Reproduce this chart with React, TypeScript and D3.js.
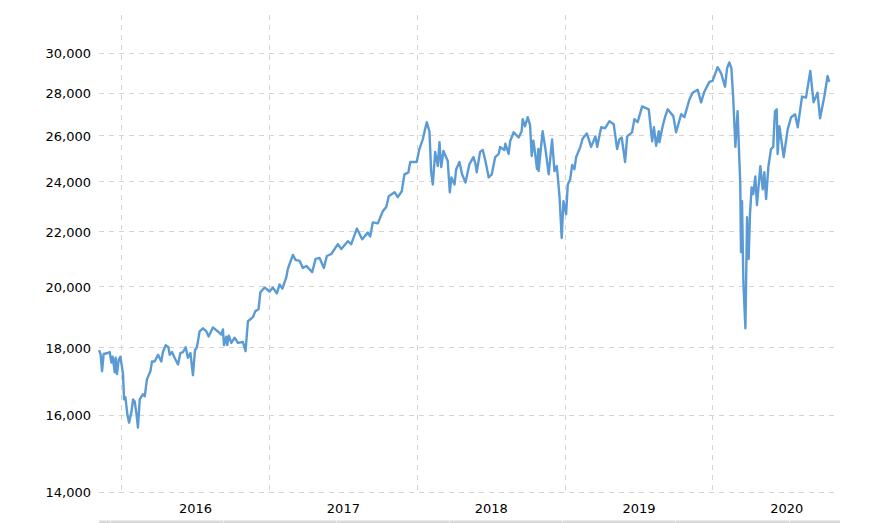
import React from "react";
import * as d3 from "d3";

const yearLabels = ["2016", "2017", "2018", "2019", "2020"];
const yearStarts = [2016, 2017, 2018, 2019, 2020];
const yTicks = [14000, 16000, 18000, 20000, 22000, 24000, 26000, 28000, 30000];
const navigatorTicks = [2015.925, 2016.69, 2017.455, 2018.22, 2018.985, 2019.75, 2020.515];

// [decimal year, index close]
const series: [number, number][] = [
[2015.847,17920],[2015.858,17775],[2015.867,17275],[2015.878,17800],[2015.905,17830],[2015.919,17860],[2015.930,17540],[2015.939,17715],[2015.953,17245],[2015.959,17685],[2015.968,17190],[2015.980,17625],[2015.991,17715],
[2016.009,17190],[2016.016,16450],[2016.025,16510],[2016.039,16010],[2016.050,15800],[2016.066,16100],[2016.077,16450],[2016.088,16390],[2016.099,16070],[2016.110,15665],[2016.122,16450],[2016.144,16600],[2016.156,16540],[2016.171,17040],[2016.194,17275],[2016.205,17570],[2016.223,17570],[2016.246,17775],[2016.268,17570],[2016.279,17860],[2016.298,18075],[2016.316,18010],[2016.325,17775],[2016.340,17860],[2016.358,17685],[2016.381,17480],[2016.397,17830],[2016.415,17860],[2016.433,18010],[2016.448,17685],[2016.465,17830],[2016.482,17155],[2016.496,17920],[2016.509,18010],[2016.527,18510],[2016.550,18610],[2016.573,18510],[2016.588,18345],[2016.617,18640],[2016.651,18510],[2016.674,18410],[2016.685,18575],[2016.692,18075],[2016.708,18345],[2016.714,18075],[2016.725,18375],[2016.742,18145],[2016.764,18310],[2016.786,18145],[2016.820,18175],[2016.838,17890],[2016.854,18840],[2016.888,18975],[2016.904,19175],[2016.926,19240],[2016.938,19810],[2016.967,19975],
[2017.001,19840],[2017.023,19975],[2017.050,19775],[2017.068,20085],[2017.087,19940],[2017.114,20340],[2017.124,20630],[2017.158,21140],[2017.176,20960],[2017.204,20920],[2017.226,20665],[2017.249,20740],[2017.289,20520],[2017.312,20995],[2017.339,21030],[2017.368,20665],[2017.388,21100],[2017.418,21175],[2017.463,21540],[2017.486,21355],[2017.530,21650],[2017.553,21540],[2017.591,22130],[2017.627,21720],[2017.665,21975],[2017.681,21830],[2017.699,22370],[2017.733,22330],[2017.767,22810],[2017.790,22970],[2017.807,23410],[2017.846,23570],[2017.868,23370],[2017.895,23610],[2017.913,24315],[2017.940,24400],[2017.952,24840],[2017.996,24840],
[2018.014,25405],[2018.037,25840],[2018.064,26620],[2018.082,26200],[2018.094,24400],[2018.105,23890],[2018.121,25280],[2018.139,24665],[2018.150,25710],[2018.162,24620],[2018.177,25320],[2018.206,24880],[2018.220,23570],[2018.231,24185],[2018.252,23890],[2018.263,24535],[2018.285,24840],[2018.303,24315],[2018.312,24185],[2018.326,23970],[2018.353,24750],[2018.380,25055],[2018.394,24750],[2018.402,24400],[2018.425,25280],[2018.443,25365],[2018.461,24880],[2018.483,24185],[2018.504,24315],[2018.527,25055],[2018.551,25190],[2018.560,25500],[2018.589,25365],[2018.596,25640],[2018.618,25190],[2018.628,25750],[2018.652,26155],[2018.686,25920],[2018.706,26200],[2018.713,26760],[2018.729,26430],[2018.747,26850],[2018.763,26480],[2018.774,25100],[2018.785,25780],[2018.792,25480],[2018.810,24535],[2018.819,25405],[2018.821,24450],[2018.837,25480],[2018.848,26200],[2018.867,25405],[2018.889,24315],[2018.912,25830],[2018.928,24450],[2018.944,24665],[2018.962,23410],[2018.977,21770],[2018.989,23210],
[2019.007,22690],[2019.018,23890],[2019.034,24100],[2019.048,24710],[2019.063,24535],[2019.075,25055],[2019.102,25480],[2019.119,25875],[2019.147,26105],[2019.176,25500],[2019.205,25970],[2019.217,25500],[2019.244,26385],[2019.271,26340],[2019.300,26665],[2019.329,26525],[2019.352,25405],[2019.367,25830],[2019.383,25920],[2019.406,24840],[2019.420,25970],[2019.453,26155],[2019.469,26760],[2019.491,26620],[2019.521,27360],[2019.566,27220],[2019.589,25750],[2019.601,26385],[2019.616,25550],[2019.634,26200],[2019.638,25710],[2019.660,26430],[2019.676,26850],[2019.694,27220],[2019.732,26900],[2019.751,26155],[2019.785,26990],[2019.807,26850],[2019.841,27690],[2019.863,28015],[2019.897,28160],[2019.920,27550],[2019.942,28065],[2019.976,28550],[2019.998,28600],
[2020.032,29285],[2020.055,28990],[2020.082,28310],[2020.096,29235],[2020.111,29525],[2020.125,29235],[2020.138,27690],[2020.152,25500],[2020.167,27130],[2020.178,25090],[2020.185,23970],[2020.190,21245],[2020.197,23210],[2020.206,20190],[2020.220,18610],[2020.231,22570],[2020.242,20990],[2020.251,22690],[2020.262,23770],[2020.273,23490],[2020.287,24230],[2020.298,23050],[2020.321,24665],[2020.337,23690],[2020.348,24400],[2020.360,23290],[2020.375,24620],[2020.393,25405],[2020.408,25500],[2020.420,27130],[2020.432,27220],[2020.438,25190],[2020.450,26430],[2020.479,25055],[2020.506,26290],[2020.529,26850],[2020.556,26990],[2020.574,26385],[2020.603,27830],[2020.630,27780],[2020.659,29100],[2020.681,27550],[2020.708,28015],[2020.725,26800],[2020.754,27830],[2020.776,28840],[2020.787,28550],
];

const W = 874, H = 523;
const x = d3.scaleLinear().domain([2016, 2020]).range([121.7, 712.9]);
const y = d3.scaleLog().domain([14000, 30000]).range([492.3, 53.3]);
const line = d3.line<[number, number]>().x((d) => x(d[0])).y((d) => y(d[1]));
const font = "'DejaVu Sans', Verdana, sans-serif";

export default function App() {
  return (
    <svg width={W} height={H} style={{ position: "absolute", left: 0, top: 0, background: "#fff" }}>
      <rect x={99} y={520.5} width={741} height={2.5} fill="#d9d9d9" />
      {navigatorTicks.map((t) => (
        <line key={t} x1={Math.floor(x(t)) + 0.5} x2={Math.floor(x(t)) + 0.5} y1={520.5} y2={523} stroke="#f0f0f0" />
      ))}
      {yTicks.map((t) => (
        <line key={t} x1={99} x2={835} y1={Math.floor(y(t)) + 0.5} y2={Math.floor(y(t)) + 0.5} stroke="#d4d4d4" strokeDasharray="5 5" />
      ))}
      {yearStarts.map((t) => (
        <line key={t} x1={Math.floor(x(t)) + 0.5} x2={Math.floor(x(t)) + 0.5} y1={15} y2={492} stroke="#d4d4d4" strokeDasharray="5 5" />
      ))}
      <path d={line(series) ?? ""} fill="none" stroke="#5b9bd5" strokeWidth={2.4} strokeLinejoin="round" />
      {yTicks.map((t) => (
        <text key={t} x={91} y={y(t) + 5} textAnchor="end" fontFamily={font} fontSize={13} fill="#000">{d3.format(",")(t)}</text>
      ))}
      {yearLabels.map((l, i) => (
        <text key={l} x={x(yearStarts[i] + 0.5)} y={513} textAnchor="middle" fontFamily={font} fontSize={13} fill="#000">{l}</text>
      ))}
    </svg>
  );
}
